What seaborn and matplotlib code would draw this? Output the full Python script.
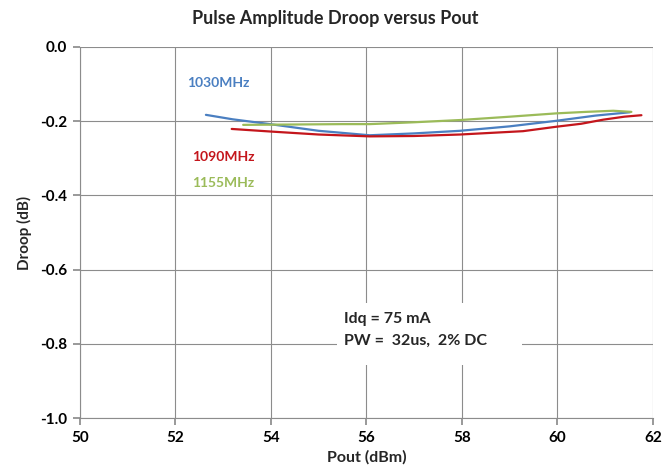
import matplotlib
matplotlib.use("Agg")
import matplotlib.pyplot as plt
from matplotlib.patches import Rectangle
import seaborn as sns
import pandas as pd

# Data
pout_1030 = [52.64, 53.2, 53.98, 55.0, 56.07, 57.0, 57.96, 59.0, 59.98, 60.8, 61.52]
droop_1030 = [-0.183, -0.195, -0.208, -0.226, -0.238, -0.233, -0.226, -0.214, -0.199, -0.185, -0.176]
pout_1090 = [53.18, 54.0, 55.0, 56.07, 57.0, 57.96, 59.28, 59.98, 60.5, 60.96, 61.4, 61.76]
droop_1090 = [-0.221, -0.228, -0.236, -0.241, -0.240, -0.236, -0.227, -0.215, -0.207, -0.196, -0.188, -0.184]
pout_1155 = [53.42, 54.5, 55.5, 56.07, 57.0, 57.96, 59.0, 59.98, 60.6, 61.17, 61.55]
droop_1155 = [-0.210, -0.209, -0.208, -0.208, -0.203, -0.197, -0.188, -0.179, -0.175, -0.172, -0.175]

series_names = ["1030MHz", "1090MHz", "1155MHz"]
colors = ["#4a7fc1", "#c4161c", "#9bbb59"]
x_ticks = [50, 52, 54, 56, 58, 60, 62]
y_ticks = [0.0, -0.2, -0.4, -0.6, -0.8, -1.0]

df = pd.concat([
    pd.DataFrame({"Pout": pout_1030, "Droop": droop_1030, "Freq": series_names[0]}),
    pd.DataFrame({"Pout": pout_1090, "Droop": droop_1090, "Freq": series_names[1]}),
    pd.DataFrame({"Pout": pout_1155, "Droop": droop_1155, "Freq": series_names[2]}),
])

sns.set_theme(style="white")
plt.rcParams["font.family"] = ["Lato", "DejaVu Sans"]

fig = plt.figure(figsize=(6.71, 4.74), dpi=100)
ax = fig.add_axes([0.119, 0.118, 0.854, 0.783])

sns.lineplot(data=df, x="Pout", y="Droop", hue="Freq", palette=dict(zip(series_names, colors)),
             sort=False, estimator=None, linewidth=1.6, legend=False, ax=ax)

ax.set_xlim(50, 62)
ax.set_ylim(-1.0, 0.0)
ax.set_xticks(x_ticks)
ax.set_yticks(y_ticks)
ax.set_xticklabels([str(v) for v in x_ticks], fontsize=11, fontweight="bold")
ax.set_yticklabels([f"{v:.1f}" for v in y_ticks], fontsize=11, fontweight="bold")
ax.grid(True, color="#8c8c8c", linewidth=0.8)
ax.set_axisbelow(True)
for s in ["top", "right"]:
    ax.spines[s].set_visible(False)
for s in ["left", "bottom"]:
    ax.spines[s].set_color("#8c8c8c")
    ax.spines[s].set_linewidth(0.8)
ax.tick_params(axis="both", which="both", length=5, color="#8c8c8c", direction="out",
               bottom=True, left=True, pad=4, colors="#8c8c8c", labelcolor="black")

ax.set_xlabel("Pout (dBm)", fontsize=11.5, fontweight="bold", labelpad=4)
ax.set_ylabel("Droop (dB)", fontsize=11, fontweight="bold", labelpad=6)
fig.text(0.5, 0.962, "Pulse Amplitude Droop versus Pout", fontsize=13, fontweight="bold",
         ha="center", va="center")

ax.text(52.25, -0.097, series_names[0], color=colors[0], fontsize=10, fontweight="bold", ha="left", va="center")
ax.text(52.35, -0.296, series_names[1], color=colors[1], fontsize=10, fontweight="bold", ha="left", va="center")
ax.text(52.35, -0.366, series_names[2], color=colors[2], fontsize=10, fontweight="bold", ha="left", va="center")

ax.add_patch(Rectangle((55.38, -0.857), 3.88, 0.167, facecolor="white", edgecolor="none", zorder=1.5))
ax.text(55.53, -0.733, "Idq = 75 mA", fontsize=11.5, fontweight="bold", ha="left", va="center", zorder=3)
ax.text(55.53, -0.792, "PW =  32us,  2% DC", fontsize=11.5, fontweight="bold", ha="left", va="center", zorder=3)

fig.savefig("out.png", dpi=100)
